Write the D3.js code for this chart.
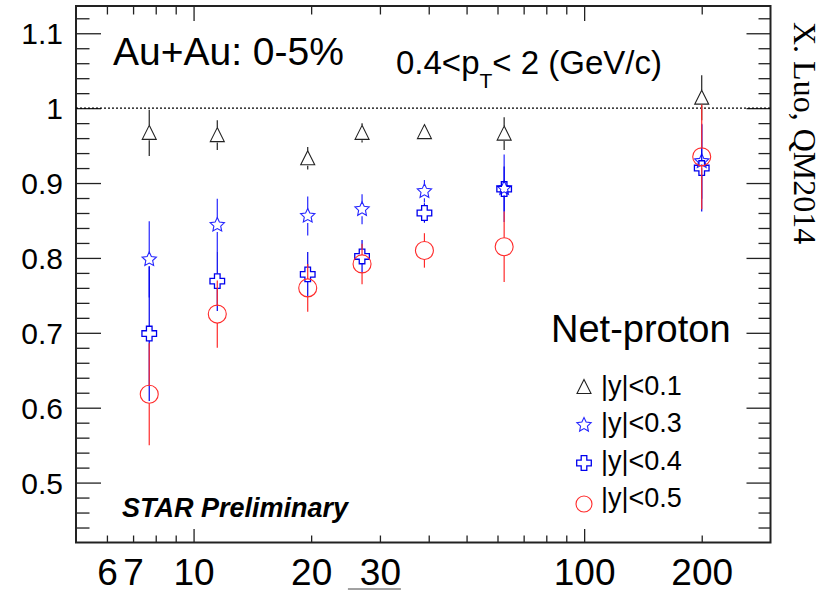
<!DOCTYPE html>
<html><head><meta charset="utf-8">
<script src="https://cdn.jsdelivr.net/npm/d3@7/dist/d3.min.js"></script>
<style>
html,body{margin:0;padding:0;background:#fff;}
svg{display:block;}
text{font-family:"Liberation Sans",Arial,Helvetica,sans-serif;}
</style></head>
<body>
<script>
// ---------- data ----------
const energies = [7.7, 11.5, 19.6, 27, 39, 62.4, 200];
const y01 = [0.967, 0.964, 0.933, 0.967, 0.968, 0.966, 1.014];
const e01 = [0.031, 0.020, 0.015, 0.013, 0.008, 0.022, 0.030];
const y03 = [0.798, 0.844, 0.856, 0.865, 0.889, 0.893, 0.929];
const e03 = [0.051, 0.035, 0.026, 0.020, 0.015, 0.045, 0.050];
const y04 = [0.699, 0.769, 0.778, 0.802, 0.860, 0.892, 0.920];
const e04 = [0.090, 0.040, 0.030, 0.022, 0.013, 0.030, 0.058];
const y05 = [0.618, 0.725, 0.760, 0.792, 0.810, 0.815, 0.935];
const e05 = [0.068, 0.045, 0.032, 0.027, 0.023, 0.047, 0.070];
const seriesNames = ["|y|<0.1", "|y|<0.3", "|y|<0.4", "|y|<0.5"];
const xTickLabels = [6, 7, 10, 20, 30, 100, 200];
const xMajor = [10, 100];
const xMinor = [6, 7, 8, 9, 20, 30, 40, 50, 60, 70, 80, 90, 200];
const yMajor = [0.5, 0.6, 0.7, 0.8, 0.9, 1.0, 1.1];
const yMinor = [0.44, 0.46, 0.48, 0.52, 0.54, 0.56, 0.58, 0.62, 0.64, 0.66, 0.68,
  0.72, 0.74, 0.76, 0.78, 0.82, 0.84, 0.86, 0.88, 0.92, 0.94, 0.96, 0.98,
  1.02, 1.04, 1.06, 1.08, 1.12];

// ---------- layout ----------
const W = 830, H = 592;
const L = 76, R = 770.5, T = 6, B = 542.5;
const svg = d3.select("body").append("svg").attr("width", W).attr("height", H);

const x = d3.scaleLog().domain([5, 300]).range([L, R]);
const y = d3.scaleLinear().domain([0.42, 1.1364]).range([B, T]);

// ---------- axes (ticks inward) ----------
function styleAxis(g) {
  g.select(".domain").remove();
  g.selectAll(".tick line").attr("stroke", "#222").attr("stroke-width", 1.3);
}
svg.append("g").attr("transform", `translate(0,${B})`)
  .call(d3.axisBottom(x).tickValues(xMajor).tickSize(-13.5).tickFormat(""))
  .call(styleAxis);
svg.append("g").attr("transform", `translate(0,${B})`)
  .call(d3.axisBottom(x).tickValues(xMinor).tickSize(-7).tickFormat(""))
  .call(styleAxis);
svg.append("g").attr("transform", `translate(0,${T})`)
  .call(d3.axisTop(x).tickValues(xMajor).tickSize(-15).tickFormat(""))
  .call(styleAxis);
svg.append("g").attr("transform", `translate(0,${T})`)
  .call(d3.axisTop(x).tickValues(xMinor).tickSize(-8.5).tickFormat(""))
  .call(styleAxis);
// x labels
const xl = svg.append("g").attr("transform", `translate(0,${B})`)
  .call(d3.axisBottom(x).tickValues(xTickLabels).tickSize(0).tickPadding(16).tickFormat(d3.format("d")));
xl.select(".domain").remove();
xl.selectAll("text").attr("font-size", 37).attr("fill", "#000")
  .style("font-family", '"Liberation Sans",Arial,sans-serif');
// stray underline under "30"
svg.append("line").attr("x1", x(30) - 32).attr("x2", x(30) + 21)
  .attr("y1", 589).attr("y2", 589).attr("stroke", "#444").attr("stroke-width", 1);

// y axes
svg.append("g").attr("transform", `translate(${L},0)`)
  .call(d3.axisLeft(y).tickValues(yMajor).tickSize(-25).tickFormat(""))
  .call(styleAxis);
svg.append("g").attr("transform", `translate(${L},0)`)
  .call(d3.axisLeft(y).tickValues(yMinor).tickSize(-13.5).tickFormat(""))
  .call(styleAxis);
svg.append("g").attr("transform", `translate(${R},0)`)
  .call(d3.axisRight(y).tickValues(yMajor).tickSize(-24).tickFormat(""))
  .call(styleAxis);
svg.append("g").attr("transform", `translate(${R},0)`)
  .call(d3.axisRight(y).tickValues(yMinor).tickSize(-12).tickFormat(""))
  .call(styleAxis);
const yl = svg.append("g").attr("transform", `translate(${L},0)`)
  .call(d3.axisLeft(y).tickValues(yMajor).tickSize(0).tickPadding(13)
    .tickFormat(d => d === 1 ? "1" : d3.format(".1f")(d)));
yl.select(".domain").remove();
yl.selectAll("text").attr("font-size", 30).attr("fill", "#000").attr("dy", "0.35em")
  .style("font-family", '"Liberation Sans",Arial,sans-serif');

// frame
svg.append("rect").attr("x", L).attr("y", T).attr("width", R - L).attr("height", B - T)
  .attr("fill", "none").attr("stroke", "#222").attr("stroke-width", 2);

// dotted line at 1
svg.append("line").attr("x1", L).attr("x2", R).attr("y1", y(1)).attr("y2", y(1))
  .attr("stroke", "#000").attr("stroke-width", 1.4).attr("stroke-dasharray", "2,2");

// ---------- markers ----------
function starPath(Ro, Ri) {
  const pts = [];
  for (let i = 0; i < 10; i++) {
    const a = -Math.PI / 2 + i * Math.PI / 5;
    const r = i % 2 ? Ri : Ro;
    pts.push([r * Math.cos(a), r * Math.sin(a)]);
  }
  return "M" + pts.map(p => p.join(",")).join("L") + "Z";
}
function crossPath(Lx, a) {
  const p = [[-a,-Lx],[a,-Lx],[a,-a],[Lx,-a],[Lx,a],[a,a],[a,Lx],[-a,Lx],[-a,a],[-Lx,a],[-Lx,-a],[-a,-a]];
  return "M" + p.map(q => q.join(",")).join("L") + "Z";
}
const triPath = "M0,-7.5L7,6.5L-7,6.5Z";
const markers = [
  { vals: y01, errs: e01, color: "#222", path: triPath, gap: 7.5, sw: 1.1 },
  { vals: y03, errs: e03, color: "#2626ff", path: starPath(7.5, 3.6), gap: 7, sw: 1.1 },
  { vals: y04, errs: e04, color: "#0000ee", path: crossPath(7.3, 2.8), gap: 7.3, sw: 1.3 },
  { vals: y05, errs: e05, color: "#ff2a2a", path: null, gap: 9, sw: 1.1 }
];

markers.forEach(m => {
  const g = svg.append("g");
  energies.forEach((e, i) => {
    const cx = x(e), cy = y(m.vals[i]);
    const top = y(m.vals[i] + m.errs[i]), bot = y(m.vals[i] - m.errs[i]);
    if (cy - m.gap > top) g.append("line").attr("x1", cx).attr("x2", cx).attr("y1", top).attr("y2", cy - m.gap)
      .attr("stroke", m.color).attr("stroke-width", 1.2);
    if (cy + m.gap < bot) g.append("line").attr("x1", cx).attr("x2", cx).attr("y1", cy + m.gap).attr("y2", bot)
      .attr("stroke", m.color).attr("stroke-width", 1.2);
    if (m.path) g.append("path").attr("d", m.path).attr("transform", `translate(${cx},${cy})`)
      .attr("fill", "none").attr("stroke", m.color).attr("stroke-width", m.sw);
    else g.append("circle").attr("cx", cx).attr("cy", cy).attr("r", 9)
      .attr("fill", "none").attr("stroke", m.color).attr("stroke-width", m.sw);
  });
});

// ---------- texts ----------
svg.append("text").attr("x", 113).attr("y", 65).attr("font-size", 39).text("Au+Au: 0-5%");
const pt = svg.append("text").attr("x", 396).attr("y", 74).attr("font-size", 33);
pt.append("tspan").text("0.4<p");
pt.append("tspan").attr("font-size", 21).attr("dy", 14).text("T");
pt.append("tspan").attr("dy", -14).text("< 2 (GeV/c)");

svg.append("text").attr("x", 551).attr("y", 342).attr("font-size", 38).text("Net-proton");
svg.append("text").attr("x", 122).attr("y", 517).attr("font-size", 27)
  .attr("font-weight", "bold").attr("font-style", "italic").text("STAR Preliminary");
svg.append("text").attr("transform", "translate(794,22) rotate(90)")
  .style("font-family", '"Liberation Serif","Times New Roman",serif')
  .attr("font-size", 32).text("X. Luo, QM2014");

// legend
const legY = [387, 425, 463, 504];
const legBase = [394.5, 432, 469.5, 507];
markers.forEach((m, i) => {
  if (m.path) svg.append("path").attr("d", m.path).attr("transform", `translate(584,${legY[i]})`)
    .attr("fill", "none").attr("stroke", m.color).attr("stroke-width", m.sw);
  else svg.append("circle").attr("cx", 584).attr("cy", legY[i]).attr("r", 8)
    .attr("fill", "none").attr("stroke", m.color).attr("stroke-width", m.sw);
  svg.append("text").attr("x", 601).attr("y", legBase[i]).attr("font-size", 27).text(seriesNames[i]);
});
</script>
</body></html>
